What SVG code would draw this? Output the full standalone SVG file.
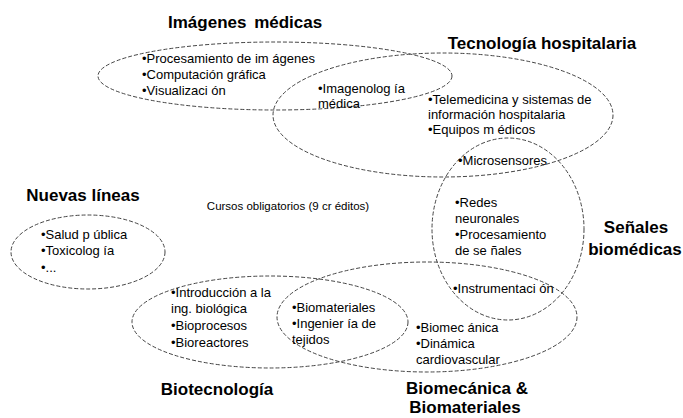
<svg xmlns="http://www.w3.org/2000/svg" width="683" height="418" viewBox="0 0 683 418">
<style>
.e{fill:none;stroke:#444;stroke-width:1;stroke-dasharray:4 2}
.t{font-family:"Liberation Sans",Arial,sans-serif;font-size:13px;fill:#000}
.h{font-family:"Liberation Sans",Arial,sans-serif;font-size:17px;font-weight:bold;fill:#000}
.s{font-family:"Liberation Sans",Arial,sans-serif;font-size:11.5px;fill:#000}
</style>
<rect width="683" height="418" fill="#fff"/>
<g id="connectors">
<ellipse class="e" cx="275" cy="76" rx="177" ry="34"/>
<ellipse class="e" cx="443" cy="115" rx="170" ry="62"/>
<ellipse class="e" cx="508" cy="229" rx="76" ry="91"/>
<ellipse class="e" cx="88" cy="252" rx="77" ry="37"/>
<ellipse class="e" cx="270" cy="322" rx="138" ry="46"/>
<ellipse class="e" cx="427" cy="317" rx="150" ry="55"/>
</g>
<g id="imagenes">
<text class="h" x="168" y="28" font-size="17.5">Imágenes <tspan dx="3">médicas</tspan></text>
<text class="t" x="142" y="63">•Procesamiento de im ágenes</text>
<text class="t" x="142" y="79">•Computación gráfica</text>
<text class="t" x="142" y="95">•Visualizaci ón</text>
</g>
<g id="imagenologia">
<text class="t" x="318" y="93">•Imagenolog ía</text>
<text class="t" x="318" y="108">médica</text>
</g>
<g id="tecnologia">
<text class="h" x="542" y="49" text-anchor="middle">Tecnología hospitalaria</text>
<text class="t" x="428" y="104">•Telemedicina y sistemas de</text>
<text class="t" x="428" y="119">información hospitalaria</text>
<text class="t" x="428" y="134">•Equipos m édicos</text>
</g>
<g id="microsensores">
<text class="t" x="458" y="165">•Microsensores</text>
</g>
<g id="senales">
<text class="h" x="636" y="233" text-anchor="middle">Señales</text>
<text class="h" x="635" y="255" text-anchor="middle">biomédicas</text>
<text class="t" x="455" y="207">•Redes</text>
<text class="t" x="455" y="223">neuronales</text>
<text class="t" x="455" y="239">•Procesamiento</text>
<text class="t" x="455" y="255">de se ñales</text>
</g>
<g id="instrumentacion">
<text class="t" x="453" y="293">•Instrumentaci ón</text>
</g>
<g id="cursos">
<text class="s" x="288" y="210" text-anchor="middle">Cursos obligatorios (9 cr éditos)</text>
</g>
<g id="nuevas">
<text class="h" x="83" y="201" text-anchor="middle">Nuevas líneas</text>
<text class="t" x="41" y="239">•Salud p ública</text>
<text class="t" x="41" y="255">•Toxicolog ía</text>
<text class="t" x="41" y="272">•...</text>
</g>
<g id="biotecnologia">
<text class="h" x="217" y="395" text-anchor="middle">Biotecnología</text>
<text class="t" x="171" y="297">•Introducción a la</text>
<text class="t" x="171" y="313">ing. biológica</text>
<text class="t" x="171" y="330">•Bioprocesos</text>
<text class="t" x="171" y="347">•Bioreactores</text>
</g>
<g id="biomateriales">
<text class="t" x="292" y="312">•Biomateriales</text>
<text class="t" x="292" y="328">•Ingenier ía de</text>
<text class="t" x="292" y="344">tejidos</text>
</g>
<g id="biomecanica">
<text class="h" x="467" y="394" text-anchor="middle">Biomecánica &amp;</text>
<text class="h" x="465" y="413" text-anchor="middle">Biomateriales</text>
<text class="t" x="416" y="332">•Biomec ánica</text>
<text class="t" x="416" y="348">•Dinámica</text>
<text class="t" x="416" y="364">cardiovascular</text>
</g>
</svg>
